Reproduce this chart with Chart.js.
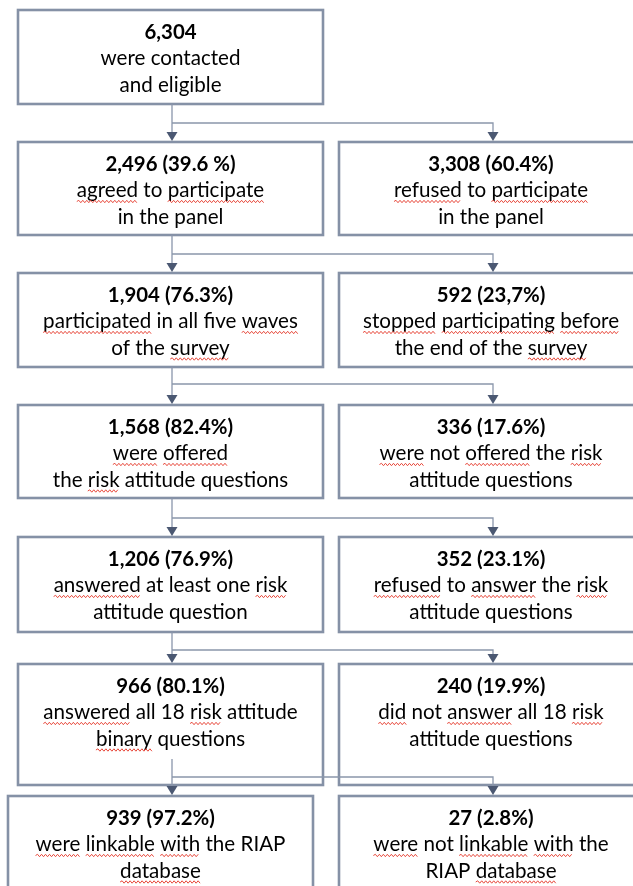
<!DOCTYPE html>
<html><head><meta charset="utf-8">
<script src="https://cdn.jsdelivr.net/npm/chart.js@4.4.1/dist/chart.umd.min.js"></script>
<style>html,body{margin:0;padding:0;background:#fff;overflow:hidden}#wrap{width:633px;height:886px;position:relative}</style>
</head><body><div id="wrap"><canvas id="c"></canvas></div>
<script>
// ---- data ----
const counts = [6304, 2496, 3308, 1904, 592, 1568, 336, 1206, 352, 966, 240, 939, 27];
const shares = ["", "39.6 %", "60.4%", "76.3%", "23,7%", "82.4%", "17.6%", "76.9%", "23.1%", "80.1%", "19.9%", "97.2%", "2.8%"];
// words prefixed with ~ carry the red spell-check underline of the original
const descriptions = [
  ["were contacted", "and eligible"],
  ["~agreed to ~participate", "in the panel"],
  ["~refused to ~participate", "in the panel"],
  ["~participated in all five ~waves", "of the ~survey"],
  ["~stopped ~participating ~before", "the end of the ~survey"],
  ["~were ~offered", "the ~risk attitude questions"],
  ["~were not ~offered the ~risk", "attitude questions"],
  ["~answered at least one ~risk", "attitude question"],
  ["~refused to ~answer the ~risk", "attitude questions"],
  ["~answered all 18 ~risk attitude", "~binary questions"],
  ["~did not ~answer all 18 ~risk", "attitude questions"],
  ["~were ~linkable ~with the RIAP", "~database"],
  ["~were not ~linkable ~with the", "RIAP ~database"]
];
const stage = [0, 1, 1, 2, 2, 3, 3, 4, 4, 5, 5, 6, 6];
const branch = [0, 0, 1, 0, 1, 0, 1, 0, 1, 0, 1, 0, 1];

// ---- layout (pixel-space units of the hidden axes) ----
const rowTop = [10, 142, 273, 405, 537, 664, 796];
const rowBottom = [104, 235, 367, 498, 632, 785, 905];
const colSpan = [[18, 323], [339, 643]];
const lastRowSpan = [[8, 313], [339, 643]];
const joinY = [123, 254, 384, 518, 650, 777];
const leaveY = [104, 235, 367, 498, 632, 759];
const arrowX = [172, 493];

const FONT = 'Lato';
const FS = 20.6;
const FS_BOLD = 20.4;

function fmt(n){ return n.toLocaleString('en-US'); }

const flowPlugin = {
  id: 'flow',
  afterDraw(chart){
    const ctx = chart.ctx, xs = chart.scales.x, ys = chart.scales.y;
    const X = v => xs.getPixelForValue(v), Y = v => ys.getPixelForValue(v);
    ctx.save();
    // boxes
    counts.forEach((c, i) => {
      const r = stage[i], b = branch[i];
      const span = r === 6 ? lastRowSpan[b] : colSpan[b];
      const x0 = X(span[0]), x1 = X(span[1]), y0 = Y(rowTop[r]), y1 = Y(rowBottom[r]);
      ctx.fillStyle = '#ffffff';
      ctx.fillRect(x0, y0, x1 - x0, y1 - y0);
      ctx.strokeStyle = '#8591a6';
      ctx.lineWidth = 2.6;
      ctx.strokeRect(x0, y0, x1 - x0, y1 - y0);
      const cx = (x0 + x1) / 2;
      const lines = [(shares[i] ? fmt(c) + ' (' + shares[i] + ')' : fmt(c))].concat(descriptions[i]);
      lines.forEach((ln, k) => {
        const ly = Y(rowTop[r] + 22 + k * 26.5);
        ctx.fillStyle = '#000';
        ctx.textBaseline = 'middle';
        if (k === 0) {
          ctx.font = 'bold ' + FS_BOLD + 'px ' + FONT;
          ctx.textAlign = 'center';
          ctx.fillText(ln, cx, ly);
          return;
        }
        ctx.font = FS + 'px ' + FONT;
        const words = ln.split(' ');
        const plain = words.map(w => w.replace('~', '')).join(' ');
        const total = ctx.measureText(plain).width;
        let sx = cx - total / 2;
        ctx.textAlign = 'left';
        ctx.fillText(plain, sx, ly);
        const space = ctx.measureText(' ').width;
        words.forEach(w => {
          const clean = w.replace('~', '');
          const ww = ctx.measureText(clean).width;
          if (w[0] === '~') {
            ctx.beginPath();
            ctx.strokeStyle = '#e8493c';
            ctx.lineWidth = 1;
            const uy = ly + 11;
            let up = true;
            ctx.moveTo(sx, uy);
            for (let p = sx + 2; p <= sx + ww; p += 2) {
              ctx.lineTo(p, uy + (up ? -1.2 : 1.2));
              up = !up;
            }
            ctx.stroke();
          }
          sx += ww + space;
        });
      });
    });
    // connectors
    for (let r = 0; r < 6; r++) {
      ctx.strokeStyle = '#8a96ab';
      ctx.lineWidth = 1.3;
      ctx.beginPath();
      ctx.moveTo(X(arrowX[0]), Y(leaveY[r]));
      ctx.lineTo(X(arrowX[0]), Y(rowTop[r + 1]) - 8);
      ctx.moveTo(X(arrowX[0]), Y(joinY[r]));
      ctx.lineTo(X(arrowX[1]), Y(joinY[r]));
      ctx.lineTo(X(arrowX[1]), Y(rowTop[r + 1]) - 8);
      ctx.stroke();
      ctx.fillStyle = '#4b5872';
      arrowX.forEach(ax => {
        const tx = X(ax), ty = Y(rowTop[r + 1]) - 1;
        ctx.beginPath();
        ctx.moveTo(tx - 5.5, ty - 9);
        ctx.lineTo(tx + 5.5, ty - 9);
        ctx.lineTo(tx, ty);
        ctx.closePath();
        ctx.fill();
      });
    }
    ctx.restore();
  }
};

new Chart(document.getElementById('c'), {
  type: 'scatter',
  data: { datasets: [] },
  options: {
    responsive: true,
    maintainAspectRatio: false,
    animation: false,
    events: [],
    layout: { padding: 0 },
    plugins: { legend: { display: false }, tooltip: { enabled: false } },
    scales: {
      x: { type: 'linear', min: 0, max: 633, display: false },
      y: { type: 'linear', min: 0, max: 886, reverse: true, display: false }
    }
  },
  plugins: [flowPlugin]
});
</script></body></html>
